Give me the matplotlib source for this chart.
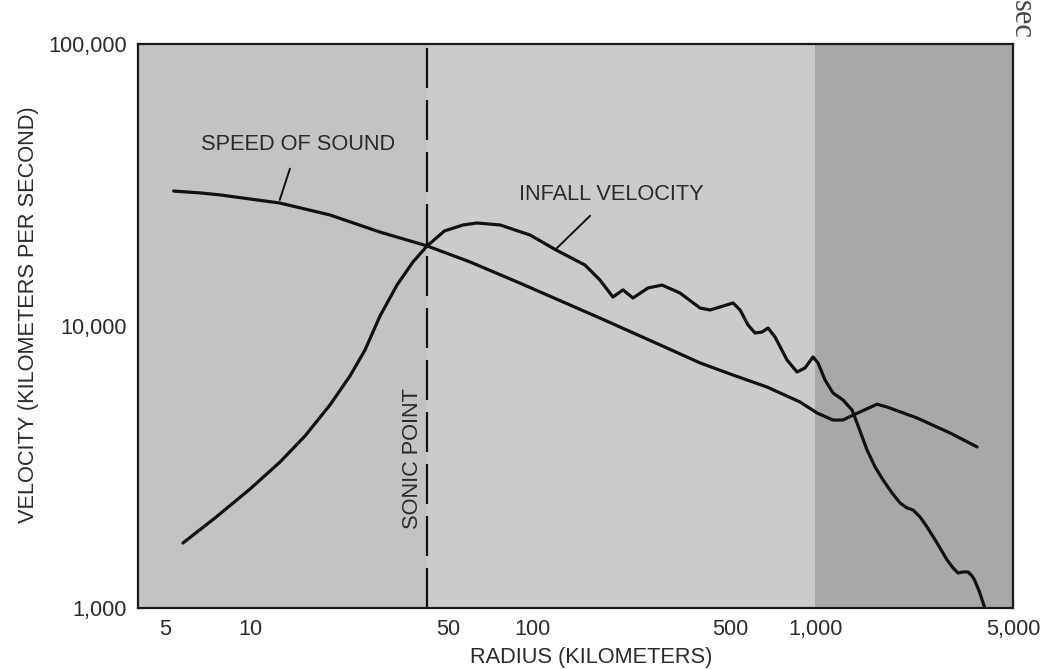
import matplotlib.pyplot as plt

plt.rcParams['font.family'] = ['Liberation Sans', 'DejaVu Sans']

# radius (km) and speed of sound (km/s)
sound_r = [5.35, 6.62, 7.8, 12.7, 19.1, 28.8, 42.2, 59.9, 90, 172.6, 281.8, 390,
           510.8, 673.8, 881.6, 1013, 1153, 1252, 1358, 1652, 1792, 2288, 2995, 3733]
sound_v = [30100, 29650, 29170, 27300, 24770, 21520, 19230, 16870, 14190, 10670,
           8570, 7400, 6700, 6076, 5377, 4915, 4640, 4642, 4830, 5280, 5161, 4719,
           4175, 3725]

# radius (km) and infall velocity (km/s)
infall_r = [5.77, 7.49, 9.97, 12.73, 15.6, 19.12, 22.51, 25.44, 28.75, 33.03,
            37.62, 42.2, 48.6, 56.6, 63.4, 76.5, 97.7, 120.8, 152.8, 172.6, 191.9,
            208.3, 225.9, 255.3, 286.4, 331.6, 390.4, 423.5, 459.4, 510.8, 540.8,
            577.2, 611.0, 647.0, 679.4, 719.3, 793.0, 860.4, 918.4, 980.2, 1021,
            1081, 1154, 1252, 1347, 1403, 1522, 1626, 1735, 1867, 1993, 2110, 2215,
            2345, 2483, 2694, 2922, 3069, 3196, 3330, 3467, 3583, 3655, 3806, 3965]
infall_v = [1700, 2085, 2642, 3294, 4073, 5248, 6647, 8220, 10850, 13980, 16870,
            19230, 21730, 22820, 23190, 22820, 21020, 18600, 16450, 14560, 12670,
            13430, 12570, 13640, 13970, 13090, 11580, 11400, 11680, 12070, 11400,
            10080, 9445, 9520, 9840, 9140, 7575, 6870, 7100, 7765, 7393, 6435, 5785,
            5465, 5036, 4530, 3634, 3162, 2843, 2557, 2357, 2263, 2226, 2102, 1938,
            1700, 1480, 1387, 1331, 1342, 1342, 1299, 1257, 1140, 1008]

sonic_r = 42.2
xticks = [5, 10, 50, 100, 500, 1000, 5000]
xlabels = ['5', '10', '50', '100', '500', '1,000', '5,000']
yticks = [1000, 10000, 100000]
ylabels = ['1,000', '10,000', '100,000']

fs = 15.7
tc = '#2a2a2a'

fig = plt.figure(figsize=(10.43, 6.69), dpi=100)
ax = fig.add_axes([0.1323, 0.0912, 0.8389, 0.8430])
ax.set_xscale('log')
ax.set_yscale('log')
ax.set_xlim(4.0, 5000)
ax.set_ylim(1000, 100000)

# shaded zones
ax.axvspan(4.0, sonic_r, color='#c3c3c3', lw=0, zorder=0)
ax.axvspan(sonic_r, 1000, color='#cbcbcb', lw=0, zorder=0)
ax.axvspan(1000, 5000, color='#a8a8a8', lw=0, zorder=0)

ax.plot(sound_r, sound_v, color='#111111', lw=2.3, solid_capstyle='round',
        solid_joinstyle='round', zorder=3)
ax.plot(infall_r, infall_v, color='#111111', lw=2.3, solid_capstyle='round',
        solid_joinstyle='round', zorder=3)
ax.axvline(sonic_r, color='#111111', lw=1.6, linestyle=(0, (18, 5.4)), zorder=2)

# labels with leader lines
ax.annotate('SPEED OF SOUND', xy=(12.7, 28000), xytext=(14.7, 43900),
            ha='center', va='center', fontsize=fs, color=tc,
            arrowprops=dict(arrowstyle='-', color='#111111', lw=1.4,
                            shrinkA=8, shrinkB=0))
ax.annotate('INFALL VELOCITY', xy=(119.6, 18600), xytext=(190, 29200),
            ha='center', va='center', fontsize=fs, color=tc,
            arrowprops=dict(arrowstyle='-', color='#111111', lw=1.4,
                            shrinkA=8, shrinkB=0))
ax.text(37.5, 3400, 'SONIC POINT', rotation=90, ha='center', va='center',
        fontsize=fs, color=tc)

ax.set_xticks(xticks)
ax.set_xticklabels(xlabels)
ax.set_yticks(yticks)
ax.set_yticklabels(ylabels)
ax.minorticks_off()
ax.tick_params(length=0, labelsize=fs, labelcolor=tc, pad=8)
ax.set_xlabel('RADIUS (KILOMETERS)', fontsize=fs, color=tc)
ax.xaxis.set_label_coords(0.518, -0.07)
ax.set_ylabel('VELOCITY (KILOMETERS PER SECOND)', fontsize=fs, color=tc)
ax.yaxis.set_label_coords(-0.113, 0.52)
for s in ax.spines.values():
    s.set_linewidth(1.6)
    s.set_color('#1a1a1a')

fig.text(0.979, 1.0, 'sec', rotation=-90, ha='center', va='top',
         fontsize=22, family='Liberation Serif', color='#444444')

fig.savefig('out.png', dpi=100)
